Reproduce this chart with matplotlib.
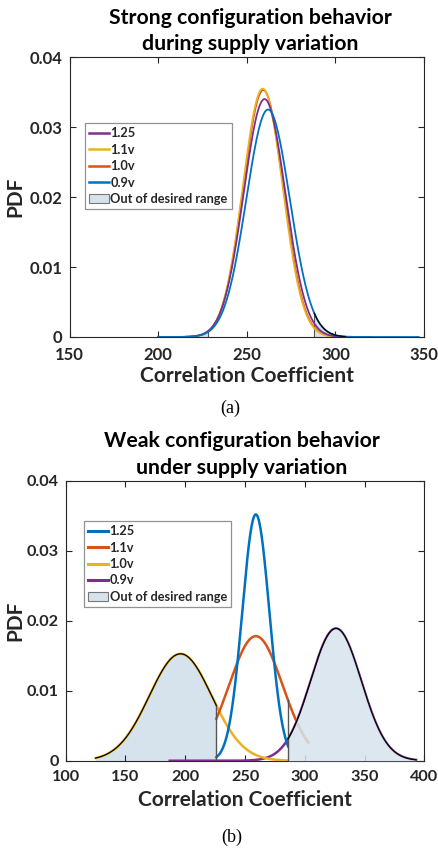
import numpy as np
import matplotlib
matplotlib.use("Agg")
import matplotlib.pyplot as plt
from matplotlib.patches import Patch
from matplotlib.lines import Line2D

plt.rcParams['font.family'] = ['Lato', 'DejaVu Sans']
plt.rcParams['font.weight'] = 'bold'

# ---------------- data ----------------
# (a) strong configuration: Gaussian PDFs (mean, sigma, x-domain)
a_labels = ['1.25', '1.1v', '1.0v', '0.9v']
a_means = [260.0, 259.0, 259.3, 262.0]
a_sigmas = [11.73, 11.24, 11.30, 12.27]
a_xmin = [200, 200, 200, 200]
a_xmax = [320, 320, 320, 347]
a_range = [228, 288]          # desired range limits

# (b) weak configuration
b_labels = ['1.25', '1.1v', '1.0v', '0.9v']
b_means = [259.0, 259.0, 196.0, 326.0]
b_sigmas = [11.33, 22.4, 26.1, 21.1]
b_xmin = [226, 226, 125, 187]
b_xmax = [286, 303, 286, 393]
b_range = [226, 286]

MBLUE, MORANGE, MYELLOW, MPURPLE = '#0072BD', '#D95319', '#EDB120', '#7E2F8E'
a_colors = [MPURPLE, MYELLOW, MORANGE, MBLUE]
b_colors = [MBLUE, MORANGE, MYELLOW, MPURPLE]
FILL = '#d6e3ed'
TXT = '#262626'


def pdf(x, m, s):
    return np.exp(-0.5 * ((x - m) / s) ** 2) / (s * np.sqrt(2 * np.pi))


fig = plt.figure(figsize=(4.38, 8.48), dpi=100)


def style_axes(ax, xlim, xticks, yticks, xlab_y, ylab_x, size=12):
    ax.set_xlim(*xlim)
    ax.set_ylim(0, 0.04)
    ax.set_xticks(xticks)
    ax.set_yticks(yticks)
    ax.set_yticklabels(['0' if v == 0 else f'{v:.2f}' for v in yticks])
    ax.tick_params(direction='in', top=True, right=True, length=4, width=0.8,
                   labelsize=size, colors=TXT)
    ax.tick_params(axis='x', pad=7)
    ax.tick_params(axis='y', pad=5)
    for lab in ax.get_xticklabels() + ax.get_yticklabels():
        lab.set_fontweight('bold')
    for sp in ax.spines.values():
        sp.set_linewidth(0.8)
        sp.set_color(TXT)
    ax.set_xlabel('Correlation Coefficient', fontsize=15, fontweight='bold',
                  color=TXT)
    ax.set_ylabel('PDF', fontsize=15, fontweight='bold', color=TXT)
    ax.xaxis.set_label_coords(0.5, xlab_y)
    ax.yaxis.set_label_coords(ylab_x, 0.5)


def make_legend(ax, handles, labels, anchor):
    leg = ax.legend(handles, labels, loc='upper left', bbox_to_anchor=anchor,
                    fontsize=9.2, frameon=True, fancybox=False, handlelength=1.55,
                    handletextpad=0.15, labelspacing=0.35, borderpad=0.3,
                    borderaxespad=0)
    leg.get_frame().set_edgecolor('#777777')
    leg.get_frame().set_linewidth(0.9)
    for t in leg.get_texts():
        t.set_fontweight('bold')
        t.set_color(TXT)
    return leg


# ---------------- (a) ----------------
axa = fig.add_axes([0.159, 0.6026, 0.809, 0.330])
curves_a = []
for m, s, x0, x1 in zip(a_means, a_sigmas, a_xmin, a_xmax):
    x = np.linspace(x0, x1, 600)
    curves_a.append((x, pdf(x, m, s)))
xb, yb = curves_a[3]
mL = xb <= a_range[0]
mR = xb >= a_range[1]
axa.fill_between(xb[mL], 0, yb[mL], color=FILL, lw=0, zorder=1)
axa.fill_between(xb[mR], 0, yb[mR], color=FILL, lw=0, zorder=1)
for xv in a_range:
    axa.plot([xv, xv], [0, pdf(xv, a_means[3], a_sigmas[3])], color='#555555', lw=0.8, zorder=2)
for i in [2, 1, 0, 3]:
    x, y = curves_a[i]
    axa.plot(x, y, color=a_colors[i], lw=1.3, zorder=3)
seg = (xb >= a_range[1]) & (xb <= 306)
axa.plot(xb[seg], yb[seg], color='black', lw=0.9, zorder=4)
style_axes(axa, (150, 350), [150, 200, 250, 300, 350], [0, 0.01, 0.02, 0.03, 0.04],
           -0.104, -0.126)

handles_a = [Line2D([], [], color=c, lw=1.8) for c in a_colors] + \
    [Patch(facecolor=FILL, edgecolor='#777777', lw=0.8)]
make_legend(axa, handles_a, a_labels + ['Out of desired range'], (0.043, 0.763))

fig.text(0.571, 0.979, 'Strong configuration behavior', ha='center', va='center',
         fontsize=15.3, fontweight='bold')
fig.text(0.571, 0.948, 'during supply variation', ha='center', va='center',
         fontsize=15.3, fontweight='bold')
fig.text(0.525, 1 - 408 / 848, '(a)', ha='center', va='center', fontsize=13,
         family='Liberation Serif', fontweight='normal')

# ---------------- (b) ----------------
axb = fig.add_axes([0.150, 0.1029, 0.819, 0.330])
curves_b = []
for m, s, x0, x1 in zip(b_means, b_sigmas, b_xmin, b_xmax):
    x = np.linspace(x0, x1, 800)
    curves_b.append((x, pdf(x, m, s)))
xy, yy = curves_b[2]
xp, yp = curves_b[3]
mL = xy <= b_range[0]
mR = xp >= b_range[1]
axb.fill_between(xy[mL], 0, yy[mL], color=FILL, lw=0, zorder=1)
axb.fill_between(xp[mR], 0, yp[mR], color=FILL, alpha=0.85, lw=0, zorder=3.5)
axb.plot([b_range[0]] * 2, [0, pdf(b_range[0], b_means[2], b_sigmas[2])], color='#555555', lw=1.0, zorder=4)
axb.plot([b_range[1]] * 2, [0, pdf(b_range[1], b_means[1], b_sigmas[1])], color='#555555', lw=1.0, zorder=4)
for i in [3, 2, 1, 0]:
    x, y = curves_b[i]
    axb.plot(x, y, color=b_colors[i], lw=1.8, zorder=3)
axb.plot(xy[mL], yy[mL], color='black', lw=0.9, zorder=4)
axb.plot(xp[mR], yp[mR], color='black', lw=0.9, zorder=4)
style_axes(axb, (100, 400), [100, 150, 200, 250, 300, 350, 400], [0, 0.01, 0.02, 0.03, 0.04],
           -0.103, -0.113, size=11.7)

handles_b = [Line2D([], [], color=c, lw=2.2) for c in b_colors] + \
    [Patch(facecolor=FILL, edgecolor='#777777', lw=0.8)]
make_legend(axb, handles_b, b_labels + ['Out of desired range'], (0.051, 0.856))

fig.text(0.552, 0.4803, 'Weak configuration behavior', ha='center', va='center',
         fontsize=15.3, fontweight='bold')
fig.text(0.552, 0.4477, 'under supply variation', ha='center', va='center',
         fontsize=15.3, fontweight='bold')
fig.text(0.53, 1 - 837 / 848, '(b)', ha='center', va='center', fontsize=13,
         family='Liberation Serif', fontweight='normal')

fig.savefig('out.png', dpi=100)
